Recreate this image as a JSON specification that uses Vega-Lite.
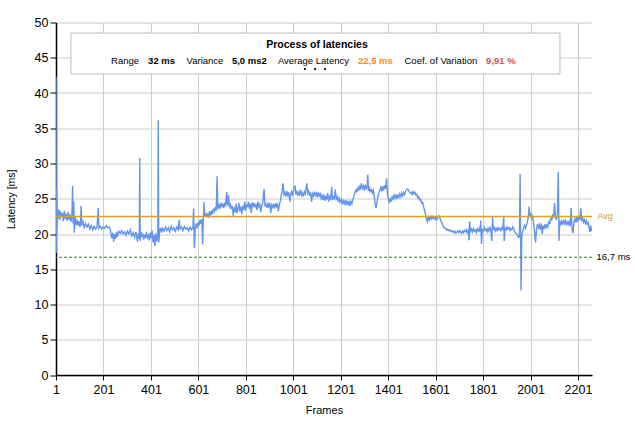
{
  "$schema": "https://vega.github.io/schema/vega-lite/v6.json",
  "width": 536,
  "height": 352.5,
  "autosize": {"type": "none"},
  "padding": {"left": 56, "top": 22.5, "right": 43, "bottom": 57},
  "background": "white",
  "config": {
    "view": {"stroke": null},
    "font": "Liberation Sans",
    "axis": {
      "labelFont": "Liberation Sans",
      "titleFont": "Liberation Sans",
      "labelColor": "#000000",
      "titleColor": "#000000",
      "domainColor": "#000000",
      "tickColor": "#000000",
      "gridColor": "#CCCCCC",
      "gridWidth": 1,
      "titleFontWeight": "normal"
    }
  },
  "layer": [
    {
      "data": {"values": [
        {"frame":1,"latency":42.3},{"frame":2,"latency":17.3},{"frame":4,"latency":26.6},{"frame":6,"latency":21.0},{"frame":8,"latency":23.4},{"frame":11,"latency":22.2},{"frame":14,"latency":23.5},{"frame":17,"latency":22.0},{"frame":20,"latency":23.2},{"frame":24,"latency":22.4},{"frame":28,"latency":23.0},{"frame":32,"latency":21.8},{"frame":36,"latency":23.3},{"frame":40,"latency":22.1},{"frame":44,"latency":22.9},{"frame":48,"latency":21.9},{"frame":52,"latency":23.1},{"frame":56,"latency":22.0},{"frame":60,"latency":22.8},{"frame":64,"latency":21.7},{"frame":68,"latency":22.6},{"frame":71,"latency":26.8},{"frame":73,"latency":21.5},{"frame":76,"latency":24.6},{"frame":78,"latency":20.2},{"frame":82,"latency":22.4},{"frame":86,"latency":21.3},{"frame":90,"latency":22.0},{"frame":94,"latency":21.2},{"frame":98,"latency":21.8},{"frame":102,"latency":21.0},
        {"frame":104,"latency":21.6},{"frame":107,"latency":24.0},{"frame":110,"latency":21.2},{"frame":115,"latency":21.7},{"frame":120,"latency":20.9},{"frame":126,"latency":21.5},{"frame":132,"latency":21.0},{"frame":138,"latency":21.4},{"frame":144,"latency":20.7},{"frame":150,"latency":21.2},{"frame":156,"latency":20.6},{"frame":162,"latency":21.1},{"frame":168,"latency":20.7},{"frame":174,"latency":21.0},{"frame":179,"latency":23.7},{"frame":182,"latency":20.8},{"frame":188,"latency":21.1},{"frame":194,"latency":20.7},{"frame":200,"latency":21.0},{"frame":206,"latency":20.8},{"frame":212,"latency":21.2},{"frame":218,"latency":20.9},{"frame":224,"latency":21.0},{"frame":230,"latency":20.6},{"frame":236,"latency":19.4},{"frame":240,"latency":20.2},{"frame":244,"latency":18.9},{"frame":248,"latency":20.0},{"frame":252,"latency":19.3},{"frame":256,"latency":20.3},{"frame":260,"latency":19.6},{"frame":266,"latency":20.4},{"frame":272,"latency":20.1},{"frame":278,"latency":20.5},{"frame":284,"latency":20.0},{"frame":290,"latency":20.3},{"frame":296,"latency":19.8},{"frame":302,"latency":20.4},{"frame":308,"latency":20.0},{"frame":314,"latency":20.6},{"frame":320,"latency":19.7},{"frame":326,"latency":20.2},{"frame":332,"latency":19.5},{"frame":338,"latency":20.3},{"frame":344,"latency":18.9},{"frame":348,"latency":20.1},{"frame":352,"latency":19.3},{"frame":354,"latency":30.8},{"frame":356,"latency":19.0},{"frame":360,"latency":20.3},
        {"frame":362,"latency":19.6},{"frame":366,"latency":20.1},{"frame":370,"latency":19.2},{"frame":374,"latency":19.9},{"frame":378,"latency":19.4},{"frame":382,"latency":20.3},{"frame":386,"latency":19.5},{"frame":390,"latency":19.8},{"frame":394,"latency":19.1},{"frame":398,"latency":20.2},{"frame":402,"latency":19.4},{"frame":406,"latency":20.5},{"frame":410,"latency":18.8},{"frame":414,"latency":19.9},{"frame":418,"latency":18.3},{"frame":422,"latency":20.1},{"frame":426,"latency":19.0},{"frame":430,"latency":19.8},{"frame":432,"latency":36.1},{"frame":434,"latency":18.8},{"frame":438,"latency":20.4},{"frame":442,"latency":20.9},{"frame":446,"latency":20.2},{"frame":450,"latency":20.8},{"frame":456,"latency":20.4},{"frame":462,"latency":21.0},{"frame":468,"latency":20.5},{"frame":474,"latency":20.9},{"frame":480,"latency":20.3},{"frame":486,"latency":21.1},{"frame":492,"latency":20.6},{"frame":498,"latency":20.9},{"frame":504,"latency":20.4},{"frame":510,"latency":21.0},{"frame":516,"latency":20.6},{"frame":520,"latency":22.0},{"frame":524,"latency":20.7},{"frame":530,"latency":21.0},{"frame":536,"latency":20.5},{"frame":542,"latency":21.1},{"frame":548,"latency":20.7},{"frame":554,"latency":20.9},{"frame":560,"latency":20.4},{"frame":566,"latency":21.0},{"frame":572,"latency":20.6},{"frame":578,"latency":20.9},{"frame":581,"latency":23.6},{"frame":584,"latency":18.0},{"frame":588,"latency":20.9},{"frame":592,"latency":21.5},{"frame":596,"latency":20.8},{"frame":600,"latency":21.7},{"frame":604,"latency":21.2},{"frame":608,"latency":22.0},{"frame":612,"latency":21.4},{"frame":616,"latency":22.1},{"frame":619,"latency":18.5},{"frame":622,"latency":22.3},{"frame":625,"latency":24.5},{"frame":628,"latency":22.4},{"frame":632,"latency":23.0},{"frame":636,"latency":22.4},{"frame":640,"latency":22.9},{"frame":644,"latency":22.3},{"frame":648,"latency":23.2},{"frame":652,"latency":22.6},{"frame":656,"latency":23.3},{"frame":660,"latency":22.8},{"frame":664,"latency":23.6},{"frame":668,"latency":23.2},{"frame":672,"latency":23.8},{"frame":676,"latency":23.3},{"frame":680,"latency":28.2},{"frame":683,"latency":23.5},{"frame":688,"latency":24.1},{"frame":692,"latency":23.6},{"frame":696,"latency":24.4},{"frame":700,"latency":23.8},
        {"frame":704,"latency":24.3},{"frame":708,"latency":23.7},{"frame":712,"latency":24.5},{"frame":716,"latency":23.9},{"frame":720,"latency":26.0},{"frame":724,"latency":24.0},{"frame":728,"latency":25.5},{"frame":732,"latency":23.9},{"frame":736,"latency":24.2},{"frame":740,"latency":23.5},{"frame":744,"latency":24.0},{"frame":748,"latency":22.6},{"frame":752,"latency":23.8},{"frame":756,"latency":23.1},{"frame":760,"latency":24.3},{"frame":764,"latency":22.9},{"frame":768,"latency":23.6},{"frame":772,"latency":24.4},{"frame":776,"latency":23.2},{"frame":780,"latency":23.9},{"frame":784,"latency":22.8},{"frame":788,"latency":24.0},{"frame":792,"latency":23.4},{"frame":796,"latency":24.6},{"frame":800,"latency":23.3},{"frame":804,"latency":24.2},{"frame":808,"latency":23.8},{"frame":812,"latency":24.6},{"frame":816,"latency":23.6},{"frame":820,"latency":24.3},{"frame":824,"latency":23.0},{"frame":828,"latency":24.5},{"frame":832,"latency":23.8},{"frame":836,"latency":24.4},{"frame":840,"latency":23.9},{"frame":844,"latency":24.1},{"frame":848,"latency":23.4},{"frame":852,"latency":24.6},{"frame":856,"latency":23.9},{"frame":860,"latency":24.2},{"frame":864,"latency":23.1},{"frame":868,"latency":24.0},{"frame":872,"latency":24.3},{"frame":878,"latency":26.4},{"frame":882,"latency":23.9},{"frame":886,"latency":24.2},{"frame":890,"latency":23.7},{"frame":894,"latency":24.3},{"frame":898,"latency":23.9},{"frame":902,"latency":24.4},{"frame":906,"latency":23.0},{"frame":910,"latency":24.1},{"frame":914,"latency":23.8},{"frame":918,"latency":24.3},{"frame":922,"latency":23.6},{"frame":926,"latency":24.2},{"frame":930,"latency":23.9},{"frame":934,"latency":24.4},{"frame":938,"latency":23.2},{"frame":942,"latency":24.1},{"frame":946,"latency":24.6},{"frame":950,"latency":25.4},{"frame":954,"latency":26.0},{"frame":958,"latency":27.2},{"frame":962,"latency":25.6},
        {"frame":966,"latency":25.9},{"frame":970,"latency":25.3},{"frame":974,"latency":26.1},{"frame":978,"latency":25.5},{"frame":982,"latency":25.9},{"frame":987,"latency":24.6},{"frame":990,"latency":25.7},{"frame":994,"latency":26.0},{"frame":998,"latency":25.4},{"frame":1002,"latency":26.2},{"frame":1008,"latency":26.9},{"frame":1012,"latency":25.6},{"frame":1016,"latency":26.1},{"frame":1020,"latency":25.4},{"frame":1024,"latency":25.9},{"frame":1028,"latency":25.6},{"frame":1032,"latency":26.3},{"frame":1036,"latency":25.5},{"frame":1040,"latency":25.8},{"frame":1044,"latency":25.3},{"frame":1048,"latency":26.0},{"frame":1052,"latency":25.7},{"frame":1058,"latency":27.2},{"frame":1062,"latency":25.8},{"frame":1066,"latency":26.1},{"frame":1070,"latency":25.4},{"frame":1074,"latency":25.9},{"frame":1078,"latency":24.6},{"frame":1082,"latency":25.7},{"frame":1086,"latency":25.4},{"frame":1090,"latency":26.0},{"frame":1094,"latency":25.5},{"frame":1098,"latency":25.8},{"frame":1102,"latency":25.2},{"frame":1106,"latency":25.9},{"frame":1110,"latency":25.4},{"frame":1114,"latency":25.7},{"frame":1118,"latency":25.1},{"frame":1122,"latency":25.5},{"frame":1126,"latency":24.8},{"frame":1130,"latency":25.6},{"frame":1134,"latency":24.7},{"frame":1138,"latency":25.4},{"frame":1142,"latency":24.9},{"frame":1146,"latency":25.8},{"frame":1150,"latency":24.6},{"frame":1154,"latency":25.3},{"frame":1158,"latency":25.0},{"frame":1163,"latency":26.7},{"frame":1166,"latency":24.8},{"frame":1170,"latency":25.4},{"frame":1174,"latency":24.9},{"frame":1178,"latency":26.3},{"frame":1182,"latency":25.0},{"frame":1186,"latency":25.3},{"frame":1190,"latency":24.7},{"frame":1194,"latency":25.1},{"frame":1198,"latency":24.5},{"frame":1204,"latency":24.9},{"frame":1208,"latency":24.2},{"frame":1212,"latency":24.7},{"frame":1216,"latency":24.3},{"frame":1220,"latency":24.8},{"frame":1224,"latency":24.1},{"frame":1228,"latency":24.6},{"frame":1232,"latency":24.2},{"frame":1236,"latency":24.7},{"frame":1240,"latency":24.0},{"frame":1244,"latency":24.6},{"frame":1248,"latency":24.3},{"frame":1252,"latency":24.9},{"frame":1256,"latency":25.3},{"frame":1260,"latency":25.8},{"frame":1264,"latency":26.2},{"frame":1268,"latency":26.0},{"frame":1272,"latency":26.6},{"frame":1276,"latency":26.1},{"frame":1280,"latency":26.9},{"frame":1284,"latency":26.3},{"frame":1288,"latency":27.2},{"frame":1292,"latency":26.5},{"frame":1296,"latency":26.8},{"frame":1300,"latency":26.2},{"frame":1304,"latency":27.0},{"frame":1308,"latency":26.4},{"frame":1312,"latency":26.7},{"frame":1315,"latency":28.4},{"frame":1318,"latency":26.1},{"frame":1322,"latency":26.5},{"frame":1326,"latency":25.9},{"frame":1330,"latency":26.4},{"frame":1334,"latency":25.8},{"frame":1338,"latency":26.2},{"frame":1342,"latency":25.5},{"frame":1346,"latency":24.2},{"frame":1350,"latency":23.7},{"frame":1354,"latency":24.6},{"frame":1358,"latency":25.3},{"frame":1362,"latency":25.9},{"frame":1366,"latency":26.2},{"frame":1370,"latency":26.6},{"frame":1374,"latency":26.0},{"frame":1378,"latency":26.8},{"frame":1382,"latency":26.2},{"frame":1386,"latency":26.9},{"frame":1390,"latency":26.4},{"frame":1394,"latency":27.9},{"frame":1398,"latency":25.6},{"frame":1402,"latency":25.0},{"frame":1406,"latency":24.4},{"frame":1410,"latency":25.1},{"frame":1414,"latency":24.6},{"frame":1418,"latency":25.4},{"frame":1422,"latency":25.0},{"frame":1426,"latency":25.5},{"frame":1430,"latency":25.1},{"frame":1434,"latency":25.6},{"frame":1438,"latency":25.0},{"frame":1442,"latency":25.5},{"frame":1446,"latency":25.2},{"frame":1450,"latency":25.7},{"frame":1454,"latency":25.3},{"frame":1458,"latency":25.8},{"frame":1462,"latency":25.4},{"frame":1466,"latency":25.9},{"frame":1470,"latency":25.6},{"frame":1474,"latency":26.0},{"frame":1478,"latency":26.2},{"frame":1482,"latency":26.4},{"frame":1486,"latency":26.3},{"frame":1490,"latency":26.0},{"frame":1494,"latency":25.8},
        {"frame":1498,"latency":25.9},{"frame":1502,"latency":25.6},{"frame":1506,"latency":26.0},{"frame":1510,"latency":25.7},{"frame":1514,"latency":25.9},{"frame":1518,"latency":25.5},{"frame":1522,"latency":25.6},{"frame":1526,"latency":25.1},{"frame":1530,"latency":25.3},{"frame":1534,"latency":24.8},{"frame":1538,"latency":24.9},{"frame":1542,"latency":24.4},{"frame":1546,"latency":24.5},{"frame":1550,"latency":23.9},{"frame":1554,"latency":23.4},{"frame":1558,"latency":22.8},{"frame":1562,"latency":22.1},{"frame":1566,"latency":21.8},{"frame":1570,"latency":22.6},{"frame":1574,"latency":22.0},{"frame":1578,"latency":22.4},{"frame":1582,"latency":22.1},{"frame":1586,"latency":22.5},{"frame":1590,"latency":22.2},{"frame":1594,"latency":22.4},{"frame":1598,"latency":22.1},{"frame":1602,"latency":22.3},{"frame":1606,"latency":22.0},{"frame":1610,"latency":22.4},{"frame":1614,"latency":22.6},{"frame":1618,"latency":22.3},{"frame":1622,"latency":22.0},{"frame":1626,"latency":21.6},{"frame":1630,"latency":21.4},{"frame":1634,"latency":21.0},{"frame":1638,"latency":20.9},{"frame":1642,"latency":20.8},{"frame":1646,"latency":20.6},{"frame":1650,"latency":20.7},{"frame":1654,"latency":20.5},{"frame":1658,"latency":20.6},{"frame":1662,"latency":20.4},{"frame":1666,"latency":20.5},{"frame":1670,"latency":20.3},{"frame":1674,"latency":20.4},{"frame":1678,"latency":20.2},{"frame":1682,"latency":20.4},{"frame":1686,"latency":20.1},{"frame":1690,"latency":20.3},{"frame":1694,"latency":20.4},{"frame":1698,"latency":20.2},{"frame":1702,"latency":20.5},{"frame":1706,"latency":20.3},{"frame":1710,"latency":20.1},{"frame":1714,"latency":20.4},{"frame":1718,"latency":20.2},{"frame":1722,"latency":20.5},{"frame":1726,"latency":20.3},{"frame":1730,"latency":20.6},{"frame":1734,"latency":20.2},{"frame":1738,"latency":20.5},{"frame":1742,"latency":19.1},{"frame":1744,"latency":21.8},{"frame":1748,"latency":20.4},{"frame":1752,"latency":20.7},{"frame":1756,"latency":20.3},{"frame":1760,"latency":20.8},{"frame":1764,"latency":20.4},{"frame":1768,"latency":20.6},{"frame":1772,"latency":20.2},{"frame":1776,"latency":20.7},{"frame":1780,"latency":20.4},{"frame":1784,"latency":20.8},{"frame":1788,"latency":20.3},{"frame":1791,"latency":21.9},{"frame":1794,"latency":18.6},{"frame":1798,"latency":20.6},{"frame":1802,"latency":20.4},{"frame":1806,"latency":20.9},{"frame":1810,"latency":20.5},{"frame":1814,"latency":20.7},{"frame":1818,"latency":20.3},{"frame":1822,"latency":20.8},{"frame":1826,"latency":20.4},{"frame":1830,"latency":20.9},{"frame":1834,"latency":20.5},{"frame":1838,"latency":19.0},{"frame":1841,"latency":22.4},{"frame":1844,"latency":20.6},{"frame":1848,"latency":20.9},{"frame":1852,"latency":20.4},{"frame":1856,"latency":20.8},{"frame":1860,"latency":20.5},{"frame":1864,"latency":20.9},{"frame":1868,"latency":20.6},{"frame":1872,"latency":20.8},
        {"frame":1876,"latency":20.5},{"frame":1880,"latency":20.9},{"frame":1884,"latency":20.6},{"frame":1888,"latency":22.4},{"frame":1890,"latency":19.0},{"frame":1894,"latency":20.8},{"frame":1898,"latency":20.6},{"frame":1902,"latency":21.0},{"frame":1906,"latency":20.7},{"frame":1910,"latency":20.9},{"frame":1914,"latency":20.5},{"frame":1918,"latency":20.8},{"frame":1922,"latency":20.6},{"frame":1926,"latency":21.0},{"frame":1930,"latency":20.7},{"frame":1934,"latency":20.4},{"frame":1938,"latency":20.1},{"frame":1942,"latency":20.0},{"frame":1946,"latency":19.8},{"frame":1950,"latency":19.5},{"frame":1954,"latency":19.6},{"frame":1957,"latency":28.5},{"frame":1961,"latency":12.0},{"frame":1964,"latency":19.7},{"frame":1968,"latency":20.4},{"frame":1972,"latency":20.9},{"frame":1976,"latency":21.2},{"frame":1980,"latency":20.8},{"frame":1984,"latency":21.3},{"frame":1988,"latency":21.8},{"frame":1992,"latency":22.5},{"frame":1995,"latency":23.9},{"frame":1998,"latency":22.4},{"frame":2002,"latency":23.0},{"frame":2006,"latency":22.2},{"frame":2010,"latency":22.5},{"frame":2014,"latency":21.5},{"frame":2018,"latency":20.2},{"frame":2022,"latency":18.8},{"frame":2026,"latency":20.6},{"frame":2030,"latency":21.4},{"frame":2034,"latency":20.9},{"frame":2038,"latency":21.3},{"frame":2042,"latency":20.6},{"frame":2046,"latency":21.5},{"frame":2050,"latency":20.0},{"frame":2054,"latency":21.2},{"frame":2058,"latency":20.7},{"frame":2062,"latency":21.4},{"frame":2066,"latency":20.9},{"frame":2070,"latency":21.3},{"frame":2074,"latency":21.0},{"frame":2078,"latency":21.8},{"frame":2082,"latency":21.4},{"frame":2086,"latency":22.3},{"frame":2090,"latency":21.9},{"frame":2094,"latency":22.8},{"frame":2098,"latency":22.3},{"frame":2102,"latency":24.4},{"frame":2106,"latency":22.5},{"frame":2110,"latency":22.0},{"frame":2114,"latency":22.6},{"frame":2118,"latency":28.8},{"frame":2121,"latency":19.0},{"frame":2124,"latency":21.9},{"frame":2128,"latency":21.4},{"frame":2132,"latency":21.8},{"frame":2136,"latency":21.3},{"frame":2140,"latency":22.0},{"frame":2144,"latency":21.5},{"frame":2148,"latency":21.9},{"frame":2152,"latency":21.2},{"frame":2156,"latency":21.7},{"frame":2160,"latency":21.4},{"frame":2164,"latency":21.9},{"frame":2168,"latency":21.1},{"frame":2172,"latency":23.7},{"frame":2176,"latency":20.7},{"frame":2180,"latency":20.1},{"frame":2184,"latency":21.8},{"frame":2188,"latency":22.2},{"frame":2192,"latency":21.6},{"frame":2196,"latency":22.3},{"frame":2200,"latency":21.9},{"frame":2204,"latency":22.6},{"frame":2208,"latency":22.0},{"frame":2213,"latency":23.7},{"frame":2216,"latency":21.8},{"frame":2220,"latency":22.4},{"frame":2224,"latency":21.7},{"frame":2228,"latency":22.0},{"frame":2232,"latency":21.5},{"frame":2236,"latency":21.9},{"frame":2240,"latency":21.4},{"frame":2244,"latency":21.6},{"frame":2248,"latency":20.8},{"frame":2251,"latency":20.3},{"frame":2254,"latency":21.2},{"frame":2257,"latency":20.4},{"frame":2260,"latency":20.9}
      ]},
      "mark": {"type": "line", "color": "#6495ED", "strokeWidth": 1.4, "clip": true},
      "encoding": {
        "x": {
          "field": "frame", "type": "quantitative", "title": "Frames",
          "scale": {"domain": [1, 2260], "nice": false, "zero": false},
          "axis": {
            "values": [1, 201, 401, 601, 801, 1001, 1201, 1401, 1601, 1801, 2001, 2201],
            "format": "d",
            "titleFontSize": 11, "titlePadding": 9,
            "labelFontSize": 12.5, "labelFlush": false, "labelPadding": 3,
            "tickSize": 5, "domainWidth": 1.5
          }
        },
        "y": {
          "field": "latency", "type": "quantitative", "title": "Latency [ms]",
          "scale": {"domain": [0, 50], "nice": false},
          "axis": {
            "values": [0, 5, 10, 15, 20, 25, 30, 35, 40, 45, 50],
            "labelOverlap": false,
            "format": "d",
            "titleFontSize": 10.5, "titlePadding": 18,
            "labelFontSize": 12.5, "labelPadding": 2,
            "tickSize": 6, "domainWidth": 1.5
          }
        }
      }
    },
    {
      "data": {"values": [{}]},
      "mark": {"type": "rule", "color": "#D8A22B", "strokeWidth": 1.5},
      "encoding": {"y": {"datum": 22.5, "type": "quantitative", "title": "Latency [ms]", "axis": {"values": [0, 5, 10, 15, 20, 25, 30, 35, 40, 45, 50], "labelOverlap": false}}}
    },
    {
      "data": {"values": [{}]},
      "mark": {"type": "rule", "color": "#2E7D32", "strokeWidth": 1.2, "strokeDash": [3, 2]},
      "encoding": {"y": {"datum": 16.7, "type": "quantitative", "title": "Latency [ms]", "axis": {"values": [0, 5, 10, 15, 20, 25, 30, 35, 40, 45, 50], "labelOverlap": false}}}
    },
    {
      "data": {"values": [{}]},
      "mark": {"type": "text", "text": "Avg", "fontSize": 9, "color": "#C79A45", "align": "left", "baseline": "middle"},
      "encoding": {
        "x": {"datum": 2283, "type": "quantitative", "title": "Frames"},
        "y": {"datum": 22.5, "type": "quantitative", "title": "Latency [ms]", "axis": {"values": [0, 5, 10, 15, 20, 25, 30, 35, 40, 45, 50], "labelOverlap": false}}
      }
    },
    {
      "data": {"values": [{}]},
      "mark": {"type": "text", "text": "16,7 ms", "fontSize": 9.5, "color": "#000000", "align": "left", "baseline": "middle"},
      "encoding": {
        "x": {"datum": 2279, "type": "quantitative", "title": "Frames"},
        "y": {"datum": 16.7, "type": "quantitative", "title": "Latency [ms]", "axis": {"values": [0, 5, 10, 15, 20, 25, 30, 35, 40, 45, 50], "labelOverlap": false}}
      }
    },
    {
      "data": {"values": [{}]},
      "mark": {"type": "rect", "fill": "white", "stroke": "#BDBDBD", "strokeWidth": 1},
      "encoding": {
        "x": {"datum": 64, "type": "quantitative", "title": "Frames"},
        "x2": {"datum": 2125},
        "y": {"datum": 48.5, "type": "quantitative", "title": "Latency [ms]", "axis": {"values": [0, 5, 10, 15, 20, 25, 30, 35, 40, 45, 50], "labelOverlap": false}},
        "y2": {"datum": 42.7}
      }
    },
    {
      "data": {"values": [{}]},
      "mark": {"type": "text", "text": "Process of latencies", "fontSize": 10.5, "fontWeight": "bold", "color": "#000000", "align": "center", "baseline": "middle"},
      "encoding": {
        "x": {"datum": 1101, "type": "quantitative", "title": "Frames"},
        "y": {"datum": 46.85, "type": "quantitative", "title": "Latency [ms]", "axis": {"values": [0, 5, 10, 15, 20, 25, 30, 35, 40, 45, 50], "labelOverlap": false}}
      }
    },
    {
      "data": {"values": [{}]},
      "mark": {"type": "text", "text": "Range", "fontSize": 9.5, "color": "#000000", "align": "center", "baseline": "middle"},
      "encoding": {
        "x": {"datum": 292, "type": "quantitative", "title": "Frames"},
        "y": {"datum": 44.47, "type": "quantitative", "title": "Latency [ms]", "axis": {"values": [0, 5, 10, 15, 20, 25, 30, 35, 40, 45, 50], "labelOverlap": false}}
      }
    },
    {
      "data": {"values": [{}]},
      "mark": {"type": "text", "text": "32 ms", "fontSize": 9.5, "fontWeight": "bold", "color": "#000000", "align": "center", "baseline": "middle"},
      "encoding": {
        "x": {"datum": 446, "type": "quantitative", "title": "Frames"},
        "y": {"datum": 44.47, "type": "quantitative", "title": "Latency [ms]", "axis": {"values": [0, 5, 10, 15, 20, 25, 30, 35, 40, 45, 50], "labelOverlap": false}}
      }
    },
    {
      "data": {"values": [{}]},
      "mark": {"type": "text", "text": "Variance", "fontSize": 9.5, "color": "#000000", "align": "center", "baseline": "middle"},
      "encoding": {
        "x": {"datum": 629, "type": "quantitative", "title": "Frames"},
        "y": {"datum": 44.47, "type": "quantitative", "title": "Latency [ms]", "axis": {"values": [0, 5, 10, 15, 20, 25, 30, 35, 40, 45, 50], "labelOverlap": false}}
      }
    },
    {
      "data": {"values": [{}]},
      "mark": {"type": "text", "text": "5,0 ms2", "fontSize": 9.5, "fontWeight": "bold", "color": "#000000", "align": "center", "baseline": "middle"},
      "encoding": {
        "x": {"datum": 816, "type": "quantitative", "title": "Frames"},
        "y": {"datum": 44.47, "type": "quantitative", "title": "Latency [ms]", "axis": {"values": [0, 5, 10, 15, 20, 25, 30, 35, 40, 45, 50], "labelOverlap": false}}
      }
    },
    {
      "data": {"values": [{}]},
      "mark": {"type": "text", "text": "Average Latency", "fontSize": 9.5, "color": "#000000", "align": "center", "baseline": "middle"},
      "encoding": {
        "x": {"datum": 1086, "type": "quantitative", "title": "Frames"},
        "y": {"datum": 44.47, "type": "quantitative", "title": "Latency [ms]", "axis": {"values": [0, 5, 10, 15, 20, 25, 30, 35, 40, 45, 50], "labelOverlap": false}}
      }
    },
    {
      "data": {"values": [{}]},
      "mark": {"type": "text", "text": "22,5 ms", "fontSize": 9.5, "fontWeight": "bold", "color": "#FF8C1A", "align": "center", "baseline": "middle"},
      "encoding": {
        "x": {"datum": 1347, "type": "quantitative", "title": "Frames"},
        "y": {"datum": 44.47, "type": "quantitative", "title": "Latency [ms]", "axis": {"values": [0, 5, 10, 15, 20, 25, 30, 35, 40, 45, 50], "labelOverlap": false}}
      }
    },
    {
      "data": {"values": [{}]},
      "mark": {"type": "text", "text": "Coef. of Variation", "fontSize": 9.5, "color": "#000000", "align": "center", "baseline": "middle"},
      "encoding": {
        "x": {"datum": 1623, "type": "quantitative", "title": "Frames"},
        "y": {"datum": 44.47, "type": "quantitative", "title": "Latency [ms]", "axis": {"values": [0, 5, 10, 15, 20, 25, 30, 35, 40, 45, 50], "labelOverlap": false}}
      }
    },
    {
      "data": {"values": [{}]},
      "mark": {"type": "text", "text": "9,91 %", "fontSize": 9.5, "fontWeight": "bold", "color": "#D9534F", "align": "center", "baseline": "middle"},
      "encoding": {
        "x": {"datum": 1876, "type": "quantitative", "title": "Frames"},
        "y": {"datum": 44.47, "type": "quantitative", "title": "Latency [ms]", "axis": {"values": [0, 5, 10, 15, 20, 25, 30, 35, 40, 45, 50], "labelOverlap": false}}
      }
    },
    {
      "data": {"values": [{}]},
      "mark": {"type": "circle", "color": "#000000", "opacity": 1, "size": 5},
      "encoding": {
        "x": {"datum": 1050, "type": "quantitative", "title": "Frames"},
        "y": {"datum": 43.39, "type": "quantitative", "title": "Latency [ms]", "axis": {"values": [0, 5, 10, 15, 20, 25, 30, 35, 40, 45, 50], "labelOverlap": false}}
      }
    },
    {
      "data": {"values": [{}]},
      "mark": {"type": "circle", "color": "#000000", "opacity": 1, "size": 5},
      "encoding": {
        "x": {"datum": 1093, "type": "quantitative", "title": "Frames"},
        "y": {"datum": 43.39, "type": "quantitative", "title": "Latency [ms]", "axis": {"values": [0, 5, 10, 15, 20, 25, 30, 35, 40, 45, 50], "labelOverlap": false}}
      }
    },
    {
      "data": {"values": [{}]},
      "mark": {"type": "circle", "color": "#000000", "opacity": 1, "size": 5},
      "encoding": {
        "x": {"datum": 1135, "type": "quantitative", "title": "Frames"},
        "y": {"datum": 43.39, "type": "quantitative", "title": "Latency [ms]", "axis": {"values": [0, 5, 10, 15, 20, 25, 30, 35, 40, 45, 50], "labelOverlap": false}}
      }
    }
  ]
}
